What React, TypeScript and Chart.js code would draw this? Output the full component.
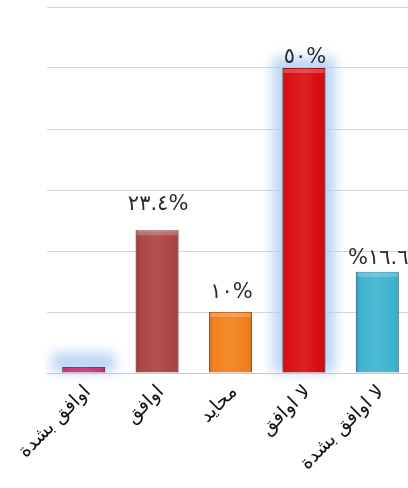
import React, { useEffect, useRef } from "react";
import { Chart, registerables } from "chart.js";

Chart.register(...registerables);

// Survey answers and their share of respondents (%)
const categories = ["اوافق بشدة", "اوافق", "محايد", "لا اوافق", "لا اوافق بشدة"];
const percentages = [1, 23.4, 10, 50, 16.6];
const showValueLabel = [false, true, true, true, true];
const percentSignFirst = [false, false, false, false, true];
const yMax = 60;
const yStep = 10;

// Styling
const barColors = ["#c4306c", "#a83b39", "#f27a12", "#d50202", "#36afcd"];
const barEdgeColors = ["#8c1f4c", "#7a2725", "#c25c08", "#9e0000", "#227f98"];
const glowBars = [true, false, false, true, false];
const valueLabelGap = [0, 18, 12, 3, 6];

const ARABIC_DIGITS = "٠١٢٣٤٥٦٧٨٩";
const toArabicDigits = (v: number) =>
  String(v).replace(/\d/g, (d) => ARABIC_DIGITS[Number(d)]);

const formatValue = (v: number, i: number) => {
  const digits = toArabicDigits(v);
  return percentSignFirst[i] ? `%${digits}` : `${digits}%`;
};

// Soft blue halo behind selected bars
const glowPlugin = {
  id: "barGlow",
  beforeDatasetsDraw(chart: any) {
    const meta = chart.getDatasetMeta(0);
    const ctx = chart.ctx as CanvasRenderingContext2D;
    meta.data.forEach((bar: any, i: number) => {
      if (!glowBars[i]) return;
      const { x, y, base, width } = bar.getProps(["x", "y", "base", "width"], true);
      const lift = Math.max(11, 20 - (base - y));
      ctx.save();
      ctx.filter = "blur(6px)";
      ctx.fillStyle = "rgba(172,204,242,0.8)";
      ctx.fillRect(x - width / 2 - 10, y - lift, width + 20, base - y + lift);
      ctx.restore();
    });
  },
};

// Shading on bars and value labels above them
const barDecorPlugin = {
  id: "barDecor",
  afterDatasetsDraw(chart: any) {
    const meta = chart.getDatasetMeta(0);
    const ctx = chart.ctx as CanvasRenderingContext2D;
    meta.data.forEach((bar: any, i: number) => {
      const { x, y, base, width } = bar.getProps(["x", "y", "base", "width"], true);
      const left = x - width / 2;
      const h = base - y;
      ctx.save();
      const g = ctx.createLinearGradient(left, 0, left + width, 0);
      g.addColorStop(0, "rgba(0,0,0,0.18)");
      g.addColorStop(0.12, "rgba(255,255,255,0.06)");
      g.addColorStop(0.5, "rgba(255,255,255,0.12)");
      g.addColorStop(0.88, "rgba(255,255,255,0.04)");
      g.addColorStop(1, "rgba(0,0,0,0.2)");
      ctx.fillStyle = g;
      ctx.fillRect(left, y, width, h);
      if (h > 8) {
        ctx.fillStyle = "rgba(255,255,255,0.22)";
        ctx.fillRect(left + 1, y + 1, width - 2, 4);
      }
      ctx.restore();

      if (!showValueLabel[i]) return;
      ctx.save();
      ctx.font = "21px 'DejaVu Sans', sans-serif";
      ctx.fillStyle = "#2b2b2b";
      ctx.textAlign = "center";
      ctx.textBaseline = "alphabetic";
      ctx.fillText(formatValue(percentages[i], i), x + 1, y - valueLabelGap[i] - 2);
      ctx.restore();
    });
  },
};

export default function App() {
  const canvasRef = useRef<HTMLCanvasElement | null>(null);

  useEffect(() => {
    if (!canvasRef.current) return;
    const chart = new Chart(canvasRef.current, {
      type: "bar",
      data: {
        labels: categories,
        datasets: [
          {
            data: percentages,
            backgroundColor: barColors,
            borderColor: barEdgeColors,
            borderWidth: 1,
            categoryPercentage: 1,
            barPercentage: 0.585,
          },
        ],
      },
      options: {
        animation: false,
        responsive: true,
        maintainAspectRatio: false,
        layout: { padding: { top: 7, left: 0, right: 0, bottom: 0 } },
        plugins: {
          legend: { display: false },
          tooltip: { enabled: false },
        },
        scales: {
          x: {
            grid: { display: false },
            border: { color: "#c8c8c8", width: 1 },
            ticks: {
              color: "#111",
              font: { family: "'DejaVu Sans', sans-serif", size: 19 },
              minRotation: 45,
              maxRotation: 45,
              padding: 0,
              labelOffset: 4,
            },
            afterFit(scale: any) {
              scale.height = 115;
              scale.paddingLeft = 0;
              scale.paddingRight = 0;
            },
          },
          y: {
            min: 0,
            max: yMax,
            ticks: { display: false, stepSize: yStep },
            grid: { color: "#d6d6d6", lineWidth: 1, drawTicks: false },
            border: { display: false },
            afterFit(scale: any) {
              scale.width = 47;
            },
          },
        },
      },
      plugins: [glowPlugin, barDecorPlugin],
    });
    return () => chart.destroy();
  }, []);

  return (
    <div
      style={{
        position: "fixed",
        left: 0,
        top: 0,
        width: 408,
        height: 488,
        overflow: "hidden",
        background: "#fff",
      }}
    >
      <div style={{ position: "relative", width: 414, height: 488 }}>
        <canvas ref={canvasRef} />
      </div>
    </div>
  );
}
